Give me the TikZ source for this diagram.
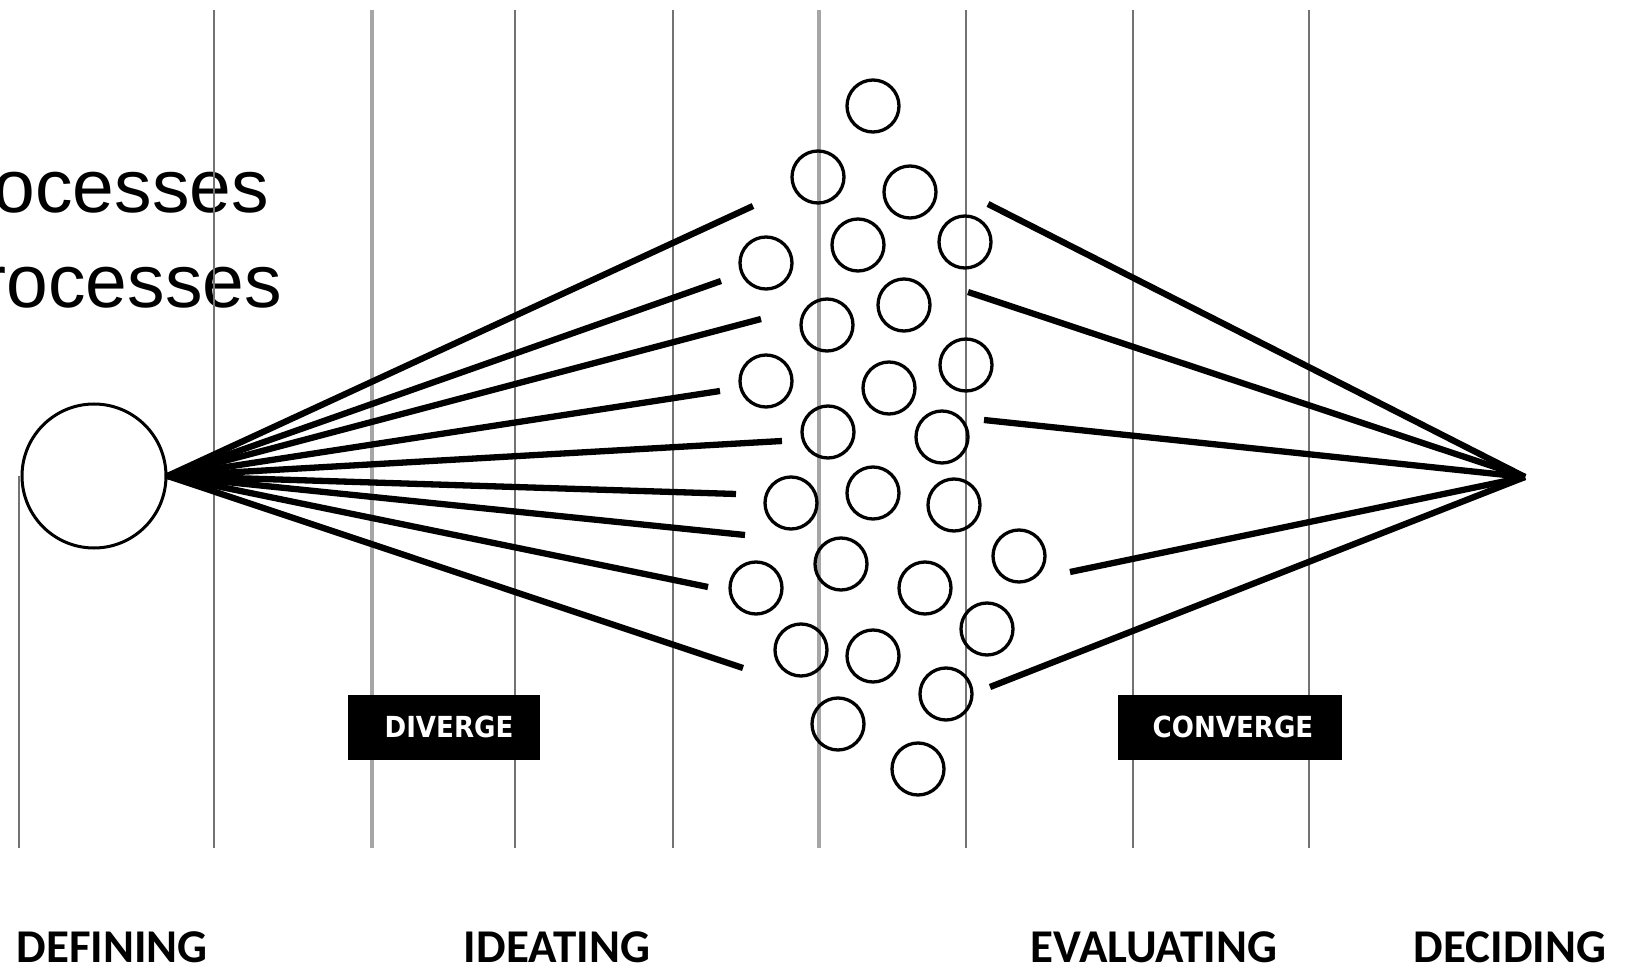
\documentclass[tikz,border=0pt]{standalone}
\usepackage{fontspec}
\usepackage{graphicx}
\setmainfont{Liberation Sans}
\newfontfamily\labelfont{Carlito}
\newfontfamily\tagfont{DejaVu Sans}

\tikzset{
  guide/.style={draw=black!55, line width=2pt},
  guidelight/.style={draw=black!35, line width=3.5pt},
  ray/.style={draw=black, line width=6.3pt},
  origin/.style={circle, draw=black, fill=white, line width=3pt, minimum size=144pt, inner sep=0pt},
  idea/.style={circle, draw=black, line width=3.3pt, minimum size=52pt, inner sep=0pt},
  tagbox/.style={fill=black, text=white, inner sep=0pt, font=\tagfont\bfseries\fontsize{29}{32}\selectfont},
  phase/.style={anchor=base, text depth=0pt, font=\labelfont\bfseries\fontsize{47}{50}\selectfont},
  heading/.style={anchor=base east, inner sep=0pt, font=\fontsize{75}{90}\selectfont}
}

\begin{document}
\begin{tikzpicture}[x=1pt, y=-1pt]
\useasboundingbox (0,0) rectangle (1626,965);
\clip (0,0) rectangle (1626,965);

% heading lines, running off the left edge
\node[heading] (h1) at (269,213) {ocesses};
\node[heading] (h2) at (282,308) {rocesses};

% vertical guide lines
\draw[guide] (19,476) -- (19,848);
\foreach \gx in {214,515,673,966,1133,1309}
  \draw[guide] (\gx,10) -- (\gx,848);
\foreach \gx in {372,819}
  \draw[guidelight] (\gx,10) -- (\gx,848);

% starting point
\node[origin] (start) at (94,476) {};

% diverging rays
\coordinate (d1) at (753,206);
\coordinate (d2) at (721,281);
\coordinate (d3) at (761,319);
\coordinate (d4) at (720,391);
\coordinate (d5) at (782,441);
\coordinate (d6) at (736,494);
\coordinate (d7) at (745,535);
\coordinate (d8) at (708,587);
\coordinate (d9) at (743,668);
\foreach \i in {1,...,9}
  \draw[ray] (start.east) -- (d\i);

% ideas
\node[idea] (i1)  at (873,106) {};
\node[idea] (i2)  at (818,177) {};
\node[idea] (i3)  at (910,192) {};
\node[idea] (i4)  at (766,263) {};
\node[idea] (i5)  at (858,245) {};
\node[idea] (i6)  at (965,242) {};
\node[idea] (i7)  at (904,305) {};
\node[idea] (i8)  at (827,325) {};
\node[idea] (i9)  at (766,381) {};
\node[idea] (i10) at (889,388) {};
\node[idea] (i11) at (966,365) {};
\node[idea] (i12) at (828,432) {};
\node[idea] (i13) at (942,437) {};
\node[idea] (i14) at (791,503) {};
\node[idea] (i15) at (873,493) {};
\node[idea] (i16) at (954,505) {};
\node[idea] (i17) at (1019,556) {};
\node[idea] (i18) at (756,588) {};
\node[idea] (i19) at (841,564) {};
\node[idea] (i20) at (925,588) {};
\node[idea] (i21) at (987,629) {};
\node[idea] (i22) at (801,650) {};
\node[idea] (i23) at (873,656) {};
\node[idea] (i24) at (946,694) {};
\node[idea] (i25) at (838,724) {};
\node[idea] (i26) at (918,769) {};

% converging rays
\coordinate (decide) at (1525,477);
\coordinate (c1) at (988,204);
\coordinate (c2) at (968,292);
\coordinate (c3) at (984,420);
\coordinate (c4) at (1070,572);
\coordinate (c5) at (990,687);
\foreach \i in {1,...,5}
  \draw[ray] (c\i) -- (decide);

% phase tags
\node[tagbox, minimum width=192pt, minimum height=65pt] (div) at (444,727)
  {\hspace*{10pt}\scalebox{0.9}[1]{DIVERGE}};
\node[tagbox, minimum width=224pt, minimum height=65pt] (conv) at (1230,727)
  {\hspace*{6pt}\scalebox{0.9}[1]{CONVERGE}};

% phase names
\node[phase] (p1) at (112,962) {DEFINING};
\node[phase] (p2) at (557,962) {IDEATING};
\node[phase] (p3) at (1154,962) {EVALUATING};
\node[phase] (p4) at (1510,962) {DECIDING};
\end{tikzpicture}
\end{document}
